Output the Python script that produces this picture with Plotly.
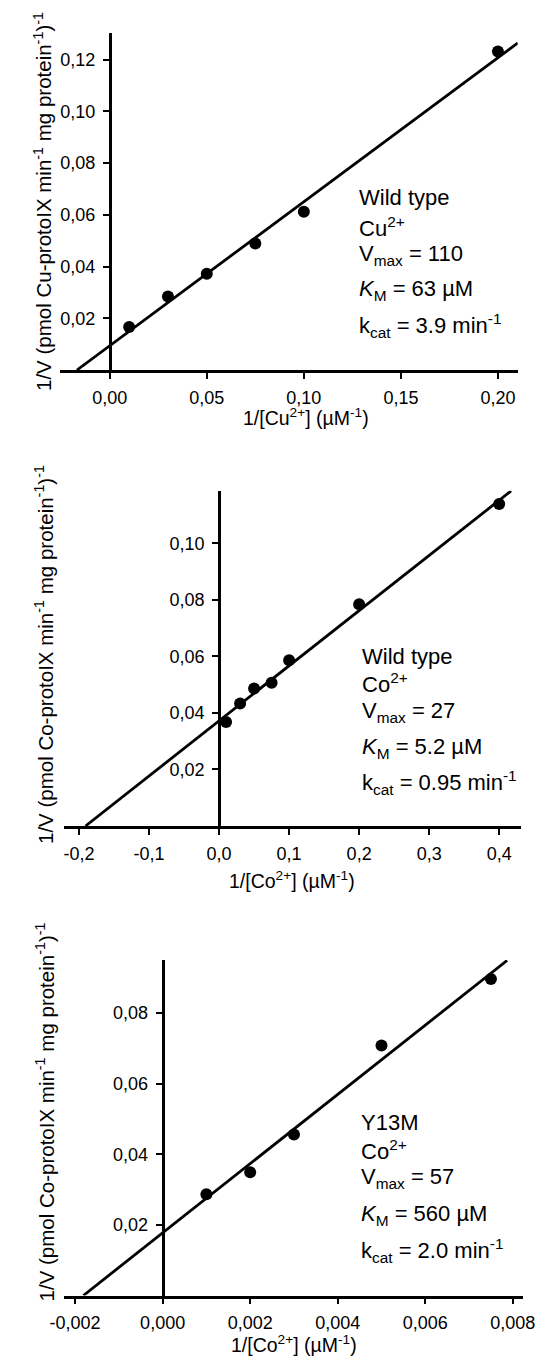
import numpy as np
import plotly.graph_objects as go

W, H = 549, 1356
FONT = "Liberation Sans, Arial, sans-serif"

# ---------------- data ----------------
# Panel 1: Wild type, Cu2+
cu_x = [0.01, 0.03, 0.05, 0.075, 0.10, 0.20]
cu_y = [0.0166, 0.0284, 0.0372, 0.0489, 0.0612, 0.1232]
cu_fit = {"slope": 0.557, "intercept": 0.0094, "x_end": 0.2103}

# Panel 2: Wild type, Co2+
cowt_x = [0.01, 0.03, 0.05, 0.075, 0.10, 0.20, 0.40]
cowt_y = [0.0368, 0.0433, 0.0486, 0.0507, 0.0586, 0.0784, 0.1139]
cowt_fit = {"slope": 0.195, "intercept": 0.0372, "x_end": 0.417}

# Panel 3: Y13M, Co2+
y13_x = [0.001, 0.002, 0.003, 0.005, 0.0075]
y13_y = [0.0287, 0.0349, 0.0456, 0.0708, 0.0896]
y13_fit = {"slope": 9.8, "intercept": 0.01774, "x_end": 0.00787}

# tick values / labels
p1_xticks = [0.0, 0.05, 0.10, 0.15, 0.20]
p1_xlabels = ["0,00", "0,05", "0,10", "0,15", "0,20"]
p1_yticks = [0.02, 0.04, 0.06, 0.08, 0.10, 0.12]
p1_ylabels = ["0,02", "0,04", "0,06", "0,08", "0,10", "0,12"]

p2_xticks = [-0.2, -0.1, 0.0, 0.1, 0.2, 0.3, 0.4]
p2_xlabels = ["-0,2", "-0,1", "0,0", "0,1", "0,2", "0,3", "0,4"]
p2_yticks = [0.02, 0.04, 0.06, 0.08, 0.10]
p2_ylabels = ["0,02", "0,04", "0,06", "0,08", "0,10"]

p3_xticks = [-0.002, 0.0, 0.002, 0.004, 0.006, 0.008]
p3_xlabels = ["-0,002", "0,000", "0,002", "0,004", "0,006", "0,008"]
p3_yticks = [0.02, 0.04, 0.06, 0.08]
p3_ylabels = ["0,02", "0,04", "0,06", "0,08"]

p1_text = ["Wild type", "Cu<sup>2+</sup>", "V<sub>max</sub> = 110",
           "<i>K</i><sub>M</sub> = 63 \u00b5M", "k<sub>cat</sub> = 3.9 min<sup>-1</sup>"]
p2_text = ["Wild type", "Co<sup>2+</sup>", "V<sub>max</sub> = 27",
           "<i>K</i><sub>M</sub> = 5.2 \u00b5M", "k<sub>cat</sub> = 0.95 min<sup>-1</sup>"]
p3_text = ["Y13M", "Co<sup>2+</sup>", "V<sub>max</sub> = 57",
           "<i>K</i><sub>M</sub> = 560 \u00b5M", "k<sub>cat</sub> = 2.0 min<sup>-1</sup>"]

ytitle_cu = "1/V (pmol Cu-protoIX min<sup>-1</sup> mg protein<sup>-1</sup>)<sup>-1</sup>"
ytitle_co = "1/V (pmol Co-protoIX min<sup>-1</sup> mg protein<sup>-1</sup>)<sup>-1</sup>"
xtitle_cu = "1/[Cu<sup>2+</sup>] (\u00b5M<sup>-1</sup>)"
xtitle_co = "1/[Co<sup>2+</sup>] (\u00b5M<sup>-1</sup>)"

# ---------------- layout geometry (pixels) ----------------
def fx(p):
    return p / W

def fy(p):
    return 1 - p / H

panels = [
    dict(x=cu_x, y=cu_y, fit=cu_fit, xr=[-0.02562, 0.21016], yr=[0, 0.1302],
         xdom=(48.3, 528.7), ydom=(33.4, 370), ypos=100.5,
         xt=(p1_xticks, p1_xlabels), yt=(p1_yticks, p1_ylabels),
         text=p1_text, tx=360, ty=[197.7, 227, 255, 290, 325],
         xtitle=xtitle_cu, xtit_pos=(307, 417), ytitle=ytitle_cu, ytit_pos=(29.7, 201.7)),
    dict(x=cowt_x, y=cowt_y, fit=cowt_fit, xr=[-0.2208, 0.4309], yr=[0, 0.1186],
         xdom=(53, 532), ydom=(490.7, 826), ypos=215.3,
         xt=(p2_xticks, p2_xlabels), yt=(p2_yticks, p2_ylabels),
         text=p2_text, tx=363, ty=[656.7, 683, 711.7, 748, 783],
         xtitle=xtitle_co, xtit_pos=(291.5, 880), ytitle=ytitle_co, ytit_pos=(31.5, 655)),
    dict(x=y13_x, y=y13_y, fit=y13_fit, xr=[-0.002253, 0.008226], yr=[0, 0.0950],
         xdom=(52.5, 534), ydom=(960, 1295.5), ypos=156,
         xt=(p3_xticks, p3_xlabels), yt=(p3_yticks, p3_ylabels),
         text=p3_text, tx=362.5, ty=[1122.7, 1150, 1178, 1215, 1250],
         xtitle=xtitle_co, xtit_pos=(294, 1344), ytitle=ytitle_co, ytit_pos=(33, 1112)),
]

fig = go.Figure()
annotations = []
layout = {}

for i, p in enumerate(panels, start=1):
    xa = "x" if i == 1 else f"x{i}"
    ya = "y" if i == 1 else f"y{i}"
    f = p["fit"]
    x0 = -f["intercept"] / f["slope"]
    lx = np.array([x0, f["x_end"]])
    ly = f["intercept"] + f["slope"] * lx
    fig.add_trace(go.Scatter(x=lx, y=ly, mode="lines", xaxis=xa, yaxis=ya,
                             line=dict(color="black", width=2.8), showlegend=False,
                             hoverinfo="skip"))
    fig.add_trace(go.Scatter(x=p["x"], y=p["y"], mode="markers", xaxis=xa, yaxis=ya,
                             marker=dict(color="black", size=12), showlegend=False,
                             cliponaxis=False))
    xkey = "xaxis" if i == 1 else f"xaxis{i}"
    ykey = "yaxis" if i == 1 else f"yaxis{i}"
    layout[xkey] = dict(
        domain=[fx(p["xdom"][0]), fx(p["xdom"][1])], range=p["xr"], anchor=ya,
        showline=True, linecolor="black", linewidth=2.8, ticks="outside",
        ticklen=6, tickwidth=2, tickcolor="black", tickvals=p["xt"][0],
        ticktext=p["xt"][1], showgrid=False, zeroline=False, ticklabelstandoff=3,
        tickfont=dict(family=FONT, size=18, color="black"))
    layout[ykey] = dict(
        domain=[fy(p["ydom"][1]), fy(p["ydom"][0])], range=p["yr"], anchor="free",
        position=fx(p["ypos"]),
        showline=True, linecolor="black", linewidth=2.8, ticks="outside",
        ticklen=6, tickwidth=2, tickcolor="black", tickvals=p["yt"][0],
        ticktext=p["yt"][1], showgrid=False, zeroline=False, ticklabelstandoff=4,
        tickfont=dict(family=FONT, size=18, color="black"))
    for t, yy in zip(p["text"], p["ty"]):
        annotations.append(dict(xref="paper", yref="paper", x=fx(p["tx"]), y=fy(yy),
                                xanchor="left", yanchor="middle", text=t, showarrow=False,
                                font=dict(family=FONT, size=22, color="black")))
    annotations.append(dict(xref="paper", yref="paper", x=fx(p["xtit_pos"][0]),
                            y=fy(p["xtit_pos"][1]), xanchor="center", yanchor="middle",
                            text=p["xtitle"], showarrow=False,
                            font=dict(family=FONT, size=19.5, color="black")))
    annotations.append(dict(xref="paper", yref="paper", x=fx(p["ytit_pos"][0]),
                            y=fy(p["ytit_pos"][1]), xanchor="center", yanchor="middle",
                            text=p["ytitle"], textangle=-90, showarrow=False,
                            font=dict(family=FONT, size=20.5, color="black")))

fig.update_layout(width=W, height=H, margin=dict(l=0, r=0, t=0, b=0),
                  paper_bgcolor="white", plot_bgcolor="white",
                  annotations=annotations, **layout)

fig.write_html("out.html", config={"displayModeBar": False},
               post_script="document.body.style.margin='0';document.body.style.overflow='hidden';")
